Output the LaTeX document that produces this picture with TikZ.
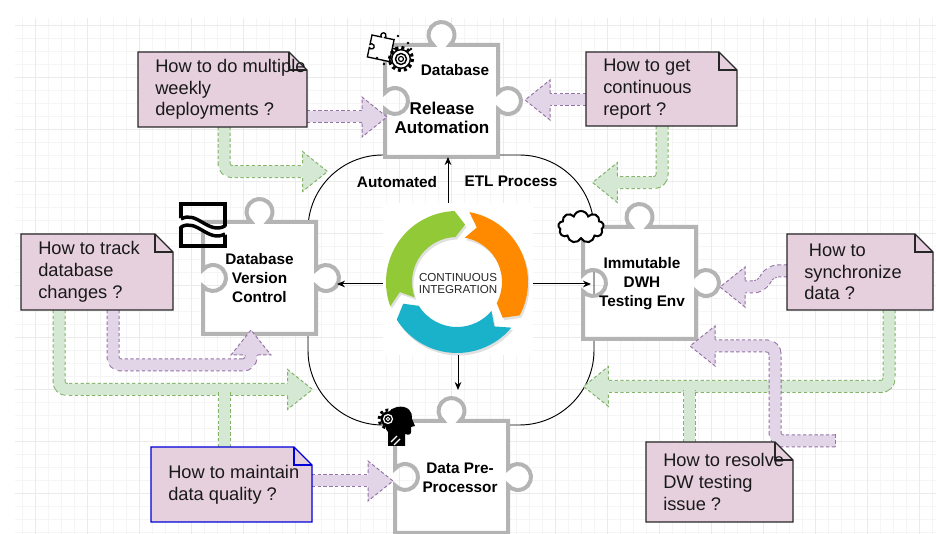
\documentclass[tikz,border=0pt]{standalone}
\usepackage{fontspec}
\setmainfont{Liberation Sans}
\usetikzlibrary{calc,arrows.meta,shapes.symbols}

\definecolor{notefill}{HTML}{E6D0DE}
\definecolor{pfill}{HTML}{E1D5E7}
\definecolor{pline}{HTML}{9673A6}
\definecolor{gfill}{HTML}{D5E8D4}
\definecolor{gline}{HTML}{82B366}
\definecolor{piecegray}{HTML}{B4B4B4}
\definecolor{cigreen}{HTML}{92C936}
\definecolor{ciorange}{HTML}{FF8A00}
\definecolor{cicyan}{HTML}{19B2CA}

\tikzset{
  gridminor/.style={draw=black!4, line width=0.4pt},
  gridmajor/.style={draw=black!8, line width=0.5pt},
  piece/.style={minimum width=84.75pt, minimum height=84pt, inner sep=0pt, outer sep=0pt},
  pieceline/.style={draw=piecegray, fill=white, line width=3pt},
  plabel/.style={font=\bfseries\fontsize{11.5}{14.25}\selectfont, align=center, inner sep=0pt},
  note/.style={inner sep=0pt, outer sep=0pt},
  noteline/.style={draw=black!85, fill=notefill, line width=0.9pt},
  qtext/.style={font=\fontsize{13.7}{16.3}\selectfont, text=black!90, align=left, anchor=west, inner sep=0pt},
  pshaft/.style={draw=pfill, line width=8.25pt, rounded corners=6pt,
    preaction={draw=pline, line width=9.75pt, dash pattern=on 2.5pt off 1.8pt}},
  gshaft/.style={draw=gfill, line width=8.25pt, rounded corners=6pt,
    preaction={draw=gline, line width=9.75pt, dash pattern=on 2.5pt off 1.8pt}},
  phead/.style={draw=pline, fill=pfill, line width=0.75pt, dash pattern=on 2.5pt off 1.8pt},
  ghead/.style={draw=gline, fill=gfill, line width=0.75pt, dash pattern=on 2.5pt off 1.8pt},
  conn/.style={-{Stealth[length=6pt,width=5pt]}, line width=0.75pt},
}

% puzzle outline round a body node: knob on top and right, socket on the left
\def\puzzle(#1){\filldraw[pieceline] (#1.north west) -- ++(48.2,0) arc (129.7:410.3:13) -- (#1.north east) -- ++(0,47.7) arc (219.7:500.3:13) -- (#1.south east) -- (#1.south west) -- ++(0,-47.7) arc (140.3:-140.3:13) -- cycle;}
% note with a folded corner
\def\qnote[#1](#2){\filldraw[noteline,#1] (#2.north west) -- ([xshift=-13.5pt]#2.north east) -- ([yshift=-13.5pt]#2.north east) -- (#2.south east) -- (#2.south west) -- cycle;
  \draw[noteline,#1,fill=none] ([xshift=-13.5pt]#2.north east) |- ([yshift=-13.5pt]#2.north east);}
% head of a block arrow, tip at #2
\newcommand\blockhead[3]{\filldraw[#1, shift={(#2)}, rotate=#3] (-25,6.5) -- (-25,20) -- (0,0) -- (-25,-20) -- (-25,-6.5);}

\begin{document}
\begin{tikzpicture}[x=0.75pt, y=-0.75pt]
	%%%%% START %%%%%
	\fill[white] (0,0) rectangle (936,534);
	\useasboundingbox (0,0) rectangle (936,534);
	
	\foreach \x in {22,35,...,936} \draw[gridminor] (\x,18) -- (\x,534);
	\foreach \y in {25.5,38.5,...,534} \draw[gridminor] (15,\y) -- (936,\y);
	\foreach \x in {35,87,...,936} \draw[gridmajor] (\x,18) -- (\x,534);
	\foreach \y in {25.5,77.5,...,534} \draw[gridmajor] (15,\y) -- (936,\y);
	
	% ETL loop and the CI picture
	\node[draw, line width=0.7pt, rounded corners=56pt, minimum width=214.5pt, minimum height=202.5pt, inner sep=0pt] (etl) at (451,290) {};
	\node[fill=white, minimum width=112.5pt, minimum height=114pt, inner sep=0pt, outer sep=0pt] (ci) at (458,279) {};
	
	% pieces
	\node[piece] (ra) at (441.5,101) {};
	\node[piece] (dvc) at (259.5,278) {};
	\node[piece] (imm) at (639.5,283) {};
	\node[piece] (dpp) at (451.5,477) {};
	\puzzle(ra) \puzzle(dvc) \puzzle(imm) \puzzle(dpp)
	
	% questions
	\node[note, minimum width=126.75pt, minimum height=56.25pt] (q1) at (222.5,89.5) {};
	\node[note, minimum width=113.25pt, minimum height=55.5pt] (q2) at (661.5,89) {};
	\node[note, minimum width=114pt, minimum height=57pt] (q3) at (97,272) {};
	\node[note, minimum width=109.5pt, minimum height=57pt] (q4) at (860,272) {};
	\node[note, minimum width=120.75pt, minimum height=56.25pt] (q5) at (231.5,484.5) {};
	\node[note, minimum width=110.25pt, minimum height=60pt] (q6) at (719.5,482) {};
	
	% green flows
	\draw[gshaft] ($(q1.south)+(1.5,0)$) |- ($(etl.north west)+(0,17)$);
	\blockhead{ghead}{$(etl.north west)+(20,17)$}{0}
	\draw[gshaft] ($(q2.south)+(0.5,0)$) |- ($(etl.north east)+(18,28)$);
	\blockhead{ghead}{$(etl.north east)+(-2,28)$}{180}
	\draw[gshaft] ($(q3.south)+(-38,0)$) |- ($(etl.south west)+(-15,-36)$);
	\draw[gshaft] ($(q5.north)+(-7.5,0)$) -- ++(0,-55);
	\blockhead{ghead}{$(etl.south west)+(5,-36)$}{0}
	\draw[gshaft] ($(q4.south)+(29,0)$) |- ($(etl.south east)+(9,-39)$);
	\draw[gshaft] ($(q6.north)+(-30.5,0)$) -- ++(0,-52);
	\blockhead{ghead}{$(etl.south east)+(-11,-39)$}{180}
	
	% purple flows
	\draw[pshaft] ($(q1.east)+(0,27.5)$) -- ($(ra.west)+(-18,16)$);
	\blockhead{phead}{$(ra.west)+(2,16)$}{0}
	\draw[pshaft] ($(q2.west)+(0,11)$) -- ($(ra.east)+(47,-1)$);
	\blockhead{phead}{$(ra.east)+(27,-1)$}{180}
	\draw[pshaft] ($(q3.south)+(16,0)$) -- ++(0,55) -| ($(dvc.south)+(-8.5,16)$);
	\blockhead{phead}{$(dvc.south)+(-8.5,-4)$}{90}
	\draw[pshaft] ($(q5.east)+(0,-3.5)$) -- ($(dpp.west)+(-22,4)$);
	\blockhead{phead}{$(dpp.west)+(-2,4)$}{0}
	\draw[pshaft] ($(q4.west)+(0,-1)$) -- ++(-17,0) -- ++(-9,16) -- ($(imm.east)+(44,4)$);
	\blockhead{phead}{$(imm.east)+(24,4)$}{180}
	\coordinate (p6s) at (835,441);
	\draw[pshaft] (p6s) -- ++(-60,0) |- ($(imm.south east)+(14,7)$);
	\draw[pline, line width=0.75pt, dash pattern=on 2.5pt off 1.8pt] ($(p6s)+(0,-6.5)$) -- ($(p6s)+(0,6.5)$);
	\blockhead{phead}{$(imm.south east)+(-6,7)$}{180}
	
	\qnote[](q1) \qnote[](q2) \qnote[](q3) \qnote[](q4) \qnote[draw=blue!85!black](q5) \qnote[](q6)
	\node[qtext] (q1t) at ($(q1.west)+(17,0)$) {How to do multiple\\weekly\\deployments ?};
	\node[qtext] (q2t) at ($(q2.west)+(17,0)$) {How to get\\continuous\\report ?};
	\node[qtext] (q3t) at ($(q3.west)+(17,0)$) {How to track\\database\\changes ?};
	\node[qtext] (q4t) at ($(q4.west)+(17,0)$) {\hspace*{3.5pt}How to\\synchronize\\data ?};
	\node[qtext] (q5t) at ($(q5.west)+(17,0)$) {How to maintain\\data quality ?};
	\node[qtext] (q6t) at ($(q6.west)+(17,0)$) {How to resolve\\DW testing\\issue ?};
	
	% icons
	\begin{scope}[shift={(372,35)}, rotate=-12, scale=0.2]
		\filldraw[fill=white, line width=1pt] (0,0) -- ++(48.2,0) arc (129.7:410.3:13) -- (113,0) -- ++(0,47.7) arc (219.7:500.3:13) -- (113,112) -- (0,112) -- ++(0,-47.7) arc (140.3:-140.3:13) -- cycle;
	\end{scope}
	\draw[line width=2.4pt, dash pattern=on 2.26pt off 2.26pt] (401,59) circle (11.5);
	\filldraw[fill=white, line width=1.1pt] (401,59) circle (9.3);
	\draw[line width=1.1pt] (401,59) circle (5.5);
	\draw[line width=0.9pt] (401,59) circle (2.5);
	\foreach \p in {(398,36),(408,43),(411,49),(377,58),(384,64),(390,61)} \fill \p circle (1.3);
	
	\draw[line width=2.6pt] (181,204) rectangle (225,246);
	\fill[white] (178,219) .. controls (196,209) and (208,236) .. (228,226) -- (228,234) .. controls (208,244) and (196,217) .. (178,227) -- cycle;
	\draw[line width=2.6pt] (181,219) .. controls (197,210) and (208,235) .. (225,226);
	\draw[line width=2.6pt] (181,227) .. controls (197,218) and (208,243) .. (225,234);
	
	\node[cloud, cloud puffs=9, aspect=1.4, draw, line width=1.5pt, fill=white, minimum width=34pt, minimum height=24pt, inner sep=0pt] (cld) at (581,227) {};
	
	\fill (388,446) -- (388,432) .. controls (382,426) and (384,410) .. (397,407) .. controls (408,405) and (413,412) .. (412,419) -- (415,426) -- (411,427) -- (411,432) .. controls (411,435) and (408,435) .. (405,434) -- (405,446) -- cycle;
	\draw[line width=2.2pt, dash pattern=on 2.12pt off 2.12pt] (388,419) circle (9);
	\fill (388,419) circle (7.5);
	\draw[white, line width=0.9pt] (388,419) circle (4.5);
	\draw[white, line width=0.7pt] (388,419) circle (1.8);
	\draw[white, line width=0.8pt] (391,442) -- (397,436) (394,445) -- (400,439);
	
	% labels
	\node[plabel] (radb) at ($(ra)+(13.5,-31)$) {Database};
	\node[plabel, font=\bfseries\fontsize{12.8}{14.3}\selectfont] (ral) at ($(ra)+(0.5,16.5)$) {Release\\Automation};
	\node[plabel] (dvcl) at (dvc) {Database\\Version\\Control};
	\node[plabel] (imml) at ($(imm)+(2.5,1)$) {Immutable\\DWH\\Testing Env};
	\node[plabel] (dppl) at ($(dpp)+(8.5,0.5)$) {Data Pre-\\Processor};
	\node[plabel] (auto) at ($(etl.north)+(-54,27)$) {Automated};
	\node[plabel] (etlp) at ($(etl.north)+(60,27)$) {ETL Process};
	
	% continuous integration ring
	\begin{scope}[shift={($(ci)+(-1,3)$)}]
		\foreach \a/\n/\b/\t in {160/170/268/278, 280/290/388/398, 400/410/508/518}
			\fill[black, opacity=0.12, shift={(1.5,2.5)}] (\a:71) arc (\a:\b:71) -- (\t:58) -- (\b:45) arc (\b:\a:45) -- (\n:58) -- cycle;
		\foreach \a/\n/\b/\t/\col in {160/170/268/278/cigreen, 280/290/388/398/ciorange, 400/410/508/518/cicyan}
			\fill[\col] (\a:71) arc (\a:\b:71) -- (\t:58) -- (\b:45) arc (\b:\a:45) -- (\n:58) -- cycle;
	\end{scope}
	\node[font=\fontsize{8.7}{8.3}\selectfont, text=black!85, align=center, inner sep=0pt] (cit) at ($(ci)+(0,4.5)$) {CONTINUOUS\\INTEGRATION};
	
	% connectors
	\coordinate (ciup) at ([xshift=-7.5pt]ci.north);
	\coordinate (cil) at ([yshift=-3.75pt]ci.west);
	\coordinate (cir) at ([yshift=-3.75pt]ci.east);
	\coordinate (dvcknob) at ($(dvc.east)+(21,0)$);
	\coordinate (immsock) at ($(imm.west)+(8,0)$);
	\coordinate (dppknob) at ($(dpp.north)+(0,-31)$);
	\draw[conn] (ciup) -- (ciup |- ra.south);
	\draw[conn] (cil) -- (cil -| dvcknob);
	\draw[conn] (cir) -- (cir -| immsock);
	\draw[conn] (ci.south) -- (ci.south |- dppknob);
	
	%%%%% END %%%%%
\end{tikzpicture}
\end{document}
